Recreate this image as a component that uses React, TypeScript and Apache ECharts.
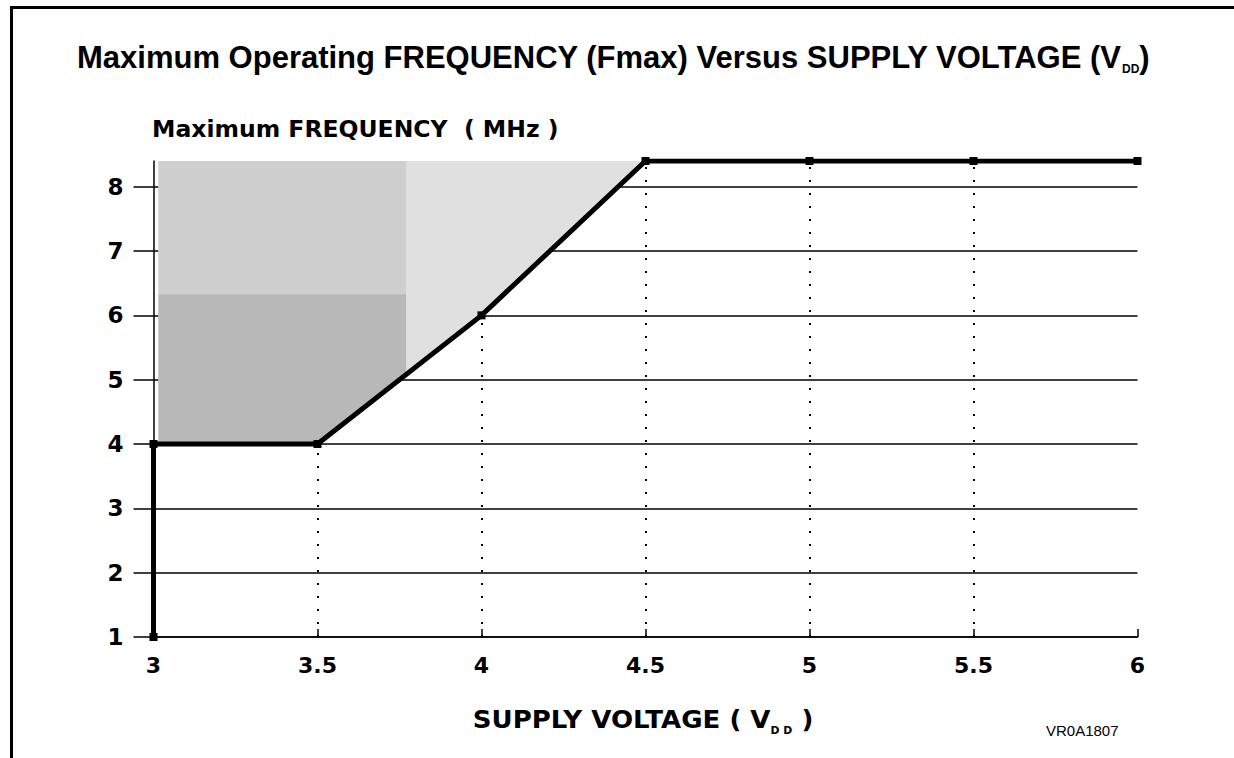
import React, { useEffect, useRef } from "react";
import * as echarts from "echarts";

// Curve: maximum operating frequency (MHz) vs supply voltage (V)
const supplyVoltage = [3, 3, 3.5, 4, 4.5, 5, 5.5, 6];
const maxFrequency = [1, 4, 4, 6, 8.4, 8.4, 8.4, 8.4];

// axis ticks
const xTicks = [3, 3.5, 4, 4.5, 5, 5.5, 6];
const yTicks = [1, 2, 3, 4, 5, 6, 7, 8];

// dotted drop lines from the axis up to the curve
const dropVoltage = [3.5, 4, 4.5, 5, 5.5];
const dropFrequency = [4, 6, 8.4, 8.4, 8.4];

// shaded (forbidden) region above the curve, in data units
const shadeFull = [[3.015, 8.4], [3.015, 4], [3.5, 4], [4, 6], [4.5, 8.4]];
const shadeUpper = [[3.015, 8.4], [3.015, 6.33], [3.77, 6.33], [3.77, 8.4]];
const shadeDark = [[3.015, 6.33], [3.015, 4], [3.5, 4], [3.77, 5.08], [3.77, 6.33]];

const titleText = "Maximum Operating FREQUENCY (Fmax) Versus SUPPLY VOLTAGE (V";
const yAxisTitle = "Maximum FREQUENCY  ( MHz )";
const xAxisTitle = "SUPPLY VOLTAGE ( V";
const figureCode = "VR0A1807";

export default function App() {
  const ref = useRef<HTMLDivElement>(null);

  useEffect(() => {
    if (!ref.current) return;
    const chart = echarts.init(ref.current, undefined, { renderer: "svg" });
    const shapes = [shadeFull, shadeUpper, shadeDark];
    const shapeFills = ["#e0e0e0", "#cfcfcf", "#b8b8b8"];
    const axisFont = "'DejaVu Sans', sans-serif";
    const titleFont = "'Liberation Sans', Arial, sans-serif";

    chart.setOption({
      animation: false,
      backgroundColor: "#ffffff",
      grid: {
        left: 153.5,
        right: 96.5,
        top: 161,
        bottom: 121,
        containLabel: false,
        outerBoundsMode: "none",
      },
      xAxis: {
        type: "value",
        min: 3,
        max: 6,
        interval: 0.5,
        axisLine: { show: true, onZero: false, lineStyle: { color: "#000", width: 1.5 } },
        axisTick: { show: true, inside: true, length: 8, lineStyle: { color: "#000", width: 1.5 }, customValues: xTicks },
        axisLabel: {
          show: true,
          customValues: xTicks,
          color: "#000",
          fontFamily: axisFont,
          fontWeight: "bold",
          fontSize: 22,
          margin: 17,
          formatter: (v: number) => String(v),
        },
        splitLine: { show: false },
      },
      yAxis: {
        type: "value",
        min: 1,
        max: 8.4,
        interval: 1,
        axisLine: { show: true, onZero: false, lineStyle: { color: "#000", width: 1.5 } },
        axisTick: { show: true, inside: false, length: 20, lineStyle: { color: "#000", width: 1.5 }, customValues: yTicks },
        axisLabel: {
          show: true,
          customValues: yTicks,
          color: "#000",
          fontFamily: axisFont,
          fontWeight: "bold",
          fontSize: 23,
          margin: 30,
        },
        splitLine: { show: true, lineStyle: { color: "#000", width: 1.5 } },
      },
      series: [
        {
          type: "custom",
          coordinateSystem: "cartesian2d",
          silent: true,
          z: 2,
          data: shapes.map((s) => s[0]),
          renderItem: (params: any, api: any) => {
            const poly = shapes[params.dataIndex];
            return {
              type: "polygon",
              shape: { points: poly.map((p) => api.coord(p)) },
              style: { fill: shapeFills[params.dataIndex], stroke: "none" },
            };
          },
        },
        {
          type: "line",
          z: 5,
          silent: true,
          data: supplyVoltage.map((v, i) => [v, maxFrequency[i]]),
          symbol: "rect",
          symbolSize: 8,
          showSymbol: true,
          lineStyle: { color: "#000", width: 5, join: "miter" },
          itemStyle: { color: "#000" },
          markLine: {
            silent: true,
            symbol: ["none", "none"],
            label: { show: false },
            lineStyle: { color: "#000", width: 2, type: [2, 11] },
            data: dropVoltage.map((v, i) => [
              { coord: [v, yTicks[0]] },
              { coord: [v, dropFrequency[i]] },
            ]),
          },
        },
      ],
      graphic: [
        {
          type: "rect",
          silent: true,
          shape: { x: 11.5, y: 7.5, width: 1400, height: 900 },
          style: { fill: "none", stroke: "#000", lineWidth: 3 },
        },
        {
          type: "text",
          x: 77,
          y: 57,
          style: {
            text: `{a|${titleText}}{s|DD}{a|)}`,
            align: "left",
            verticalAlign: "middle",
            rich: {
              a: { fontSize: 31, fontWeight: "bold", fontFamily: titleFont, lineHeight: 36, verticalAlign: "middle", fill: "#000" },
              s: { fontSize: 12, fontWeight: "bold", fontFamily: titleFont, lineHeight: 12, verticalAlign: "bottom", fill: "#000" },
            },
          },
        },
        {
          type: "text",
          x: 152,
          y: 129,
          style: {
            text: yAxisTitle,
            align: "left",
            verticalAlign: "middle",
            fontSize: 23.5,
            fontWeight: "bold",
            fontFamily: axisFont,
            fill: "#000",
          },
        },
        {
          type: "text",
          x: 643,
          y: 720,
          scaleX: 1.085,
          style: {
            text: `{a|${xAxisTitle}}{s|D D}{a| )}`,
            align: "center",
            verticalAlign: "middle",
            rich: {
              a: { fontSize: 24, fontWeight: "bold", fontFamily: axisFont, lineHeight: 30, verticalAlign: "middle", fill: "#000" },
              s: { fontSize: 10, fontWeight: "bold", fontFamily: axisFont, lineHeight: 10, verticalAlign: "bottom", fill: "#000" },
            },
          },
        },
        {
          type: "text",
          x: 1046,
          y: 730,
          style: {
            text: figureCode,
            align: "left",
            verticalAlign: "middle",
            fontSize: 15,
            fontFamily: titleFont,
            fill: "#000",
          },
        },
      ],
    });
    return () => chart.dispose();
  }, []);

  return (
    <div
      ref={ref}
      style={{ position: "fixed", left: 0, top: 0, width: 1234, height: 758, background: "#fff" }}
    />
  );
}
